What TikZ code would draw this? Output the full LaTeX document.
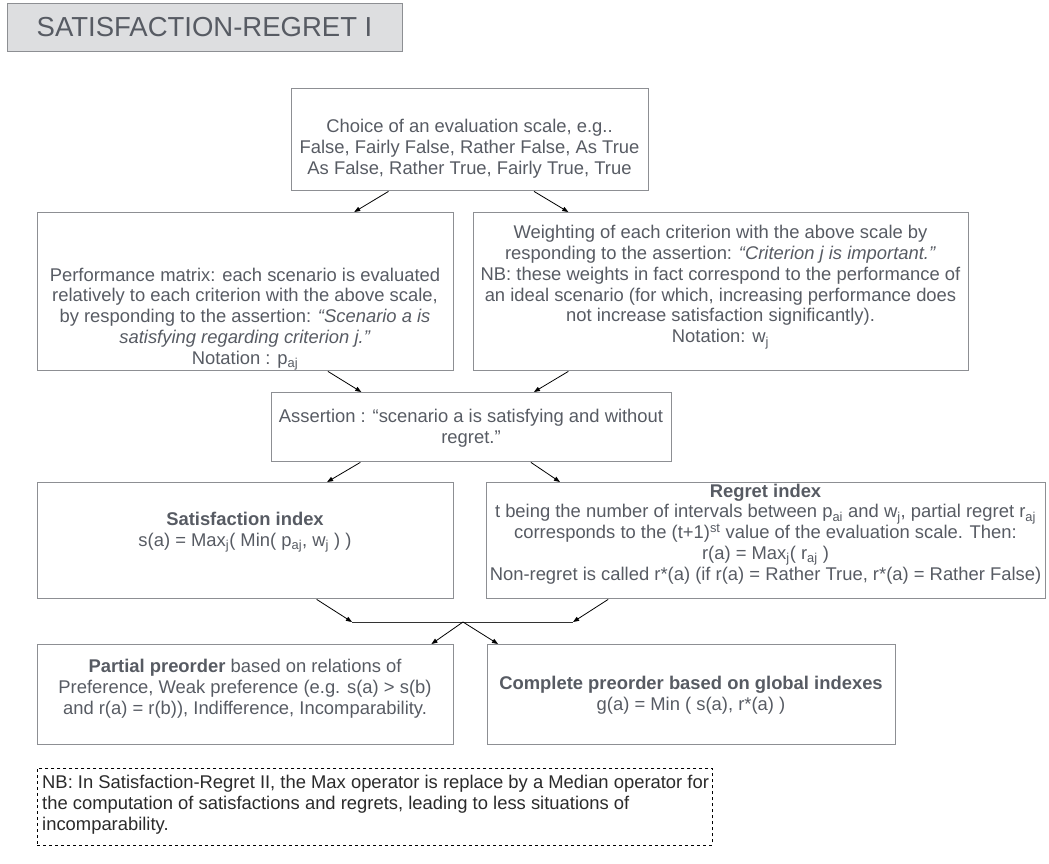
\documentclass[tikz,border=0pt]{standalone}
\usepackage{fontspec}
\setmainfont{Liberation Sans}
\usetikzlibrary{arrows.meta,calc}
\definecolor{txt}{HTML}{575B63}
\definecolor{edge}{HTML}{8D8F93}
\definecolor{tfill}{HTML}{DDDEE0}
\definecolor{nbtxt}{HTML}{2A2A2A}
\begin{document}
\begin{tikzpicture}[x=1pt,y=-1pt,
  boxnode/.style={draw=edge,line width=1.4pt,inner sep=0pt,anchor=north west},
  txtnode/.style={text=txt,align=center,inner sep=0pt,font=\fontsize{18.4}{20.8}\selectfont},
  arr/.style={-{Triangle[length=6pt,width=4.5pt]},line width=0.8pt,black},
  joinline/.style={line width=0.9pt,black!80}]
\useasboundingbox (0,0) rectangle (1049,864);

% title
\node[boxnode,fill=tfill,minimum width=395,minimum height=48] (title) at (7,3) {};
\node[text=txt,inner sep=0pt,font=\fontsize{27.5}{30}\selectfont] (title-t) at (204.5,27) {SATISFACTION-REGRET I};

% boxes
\node[boxnode,minimum width=357,minimum height=102] (choice) at (291,88) {};
\node[boxnode,minimum width=416,minimum height=158] (perf) at (37,212) {};
\node[boxnode,minimum width=495,minimum height=158] (weight) at (473,212) {};
\node[boxnode,minimum width=400,minimum height=69] (assert) at (271,392) {};
\node[boxnode,minimum width=416,minimum height=116] (sat) at (37,482) {};
\node[boxnode,minimum width=559,minimum height=116] (regret) at (486,482) {};
\node[boxnode,minimum width=416,minimum height=100] (part) at (37,644) {};
\node[boxnode,minimum width=408,minimum height=100] (comp) at (487,644) {};
\node[draw=black,dashed,line width=0.8pt,inner sep=0pt,anchor=north west,minimum width=675,minimum height=77] (nb) at (37,768) {};

% texts
\node[txtnode] (choice-t) at (469.5,149) {Choice of an evaluation scale, e.g..\\False, Fairly False, Rather False, As True\\As False, Rather True, Fairly True, True};
\node[txtnode] (perf-t) at (245,319) {Performance matrix: each scenario is evaluated\\relatively to each criterion with the above scale,\\by responding to the assertion: \textit{“Scenario a is}\\\textit{satisfying regarding criterion j.”}\\Notation : p\textsubscript{aj}};
\node[txtnode] (weight-t) at (720.5,287) {Weighting of each criterion with the above scale by\\responding to the assertion: \textit{“Criterion j is important.”}\\NB: these weights in fact correspond to the performance of\\an ideal scenario (for which, increasing performance does\\not increase satisfaction significantly).\\Notation: w\textsubscript{j}};
\node[txtnode] (assert-t) at (471,428) {Assertion : “scenario a is satisfying and without\\regret.”};
\node[txtnode] (sat-t) at (245,532) {\textbf{Satisfaction index}\\s(a) = Max\textsubscript{j}( Min( p\textsubscript{aj}, w\textsubscript{j} ) )};
\node[txtnode] (regret-t) at (765.5,534) {\textbf{Regret index}\\t being the number of intervals between p\textsubscript{ai} and w\textsubscript{j}, partial regret r\textsubscript{aj}\\corresponds to the (t+1)\textsuperscript{st} value of the evaluation scale. Then:\\r(a) = Max\textsubscript{j}( r\textsubscript{aj} )\\Non-regret is called r*(a) (if r(a) = Rather True, r*(a) = Rather False)};
\node[txtnode] (part-t) at (245,689) {\textbf{Partial preorder} based on relations of\\Preference, Weak preference (e.g. s(a) > s(b)\\and r(a) = r(b)), Indifference, Incomparability.};
\node[txtnode] (comp-t) at (691,695) {\textbf{Complete preorder based on global indexes}\\g(a) = Min ( s(a), r*(a) )};
\node[txtnode,align=left,anchor=west,text=nbtxt] (nb-t) at (42,805) {NB: In Satisfaction-Regret II, the Max operator is replace by a Median operator for\\the computation of satisfactions and regrets, leading to less situations of\\incomparability.};

% connectors
\draw[arr] ($(choice.south west)!0.272!(choice.south east)$) -- ($(perf.north west)!0.76!(perf.north east)$);
\draw[arr] ($(choice.south west)!0.678!(choice.south east)$) -- ($(weight.north west)!0.192!(weight.north east)$);
\draw[arr] ($(perf.south west)!0.697!(perf.south east)$) -- ($(assert.north west)!0.225!(assert.north east)$);
\draw[arr] ($(weight.south west)!0.192!(weight.south east)$) -- ($(assert.north west)!0.655!(assert.north east)$);
\draw[arr] ($(assert.south west)!0.2225!(assert.south east)$) -- ($(sat.north west)!0.695!(sat.north east)$);
\draw[arr] ($(assert.south west)!0.6475!(assert.south east)$) -- ($(regret.north west)!0.132!(regret.north east)$);

\coordinate (mL) at (352,622);
\coordinate (mR) at (573,622);
\coordinate (mS) at (463,622);
\draw[joinline] (mL) -- (mR);
\draw[arr] ($(sat.south west)!0.67!(sat.south east)$) -- (mL);
\draw[arr] ($(regret.south west)!0.218!(regret.south east)$) -- (mR);
\draw[arr] (mS) -- ($(part.north west)!0.945!(part.north east)$);
\draw[arr] (mS) -- ($(comp.north west)!0.027!(comp.north east)$);
\end{tikzpicture}
\end{document}
